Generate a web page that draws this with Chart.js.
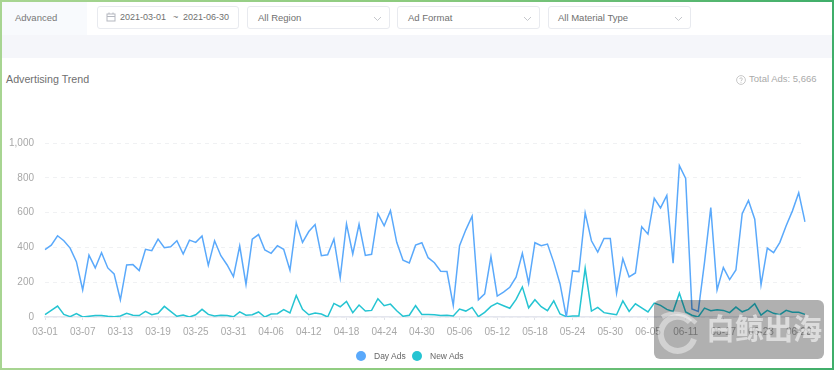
<!DOCTYPE html>
<html>
<head>
<meta charset="utf-8">
<script src="https://cdn.jsdelivr.net/npm/chart.js@4/dist/chart.umd.min.js"></script>
<style>
html,body{margin:0;padding:0;background:#fff}
body{width:834px;height:370px;position:relative;overflow:hidden;font-family:"Liberation Sans",Arial,sans-serif}
.frame{position:absolute;inset:0;box-sizing:border-box;border:2px solid;border-image:linear-gradient(90deg,#a8d592,#8ccb7e 50%,#3fae6a) 1;z-index:5;pointer-events:none}
.tab{position:absolute;left:2px;top:2px;width:85px;height:33px;background:#f8fafd;color:#777;font-size:9.5px;line-height:31px;text-indent:13px}
.band{position:absolute;left:2px;right:2px;top:35px;height:23px;background:#f5f6fa}
.box{position:absolute;top:6px;height:21px;border:1px solid #e8eaef;border-radius:3px;color:#707070;font-size:9.5px;line-height:21px;box-sizing:content-box}
.box span{position:absolute;top:0;white-space:pre}
.box svg{position:absolute}
.title{position:absolute;left:6px;top:72px;font-size:10.7px;line-height:14px;color:#707070}
.total{position:absolute;left:749px;top:72px;font-size:9.5px;line-height:14px;color:#aaa;white-space:pre}
.help{position:absolute;left:736px;top:75px}
#wrap{position:absolute;left:2px;top:126px;width:830px;height:242px}
#legend{position:absolute;left:0;top:350px;width:834px;height:12px;font-size:8.5px;line-height:12px;color:#666}
#legend i{position:absolute;top:1px;width:10px;height:10px;border-radius:50%}
#legend span{position:absolute;top:0;white-space:pre}
.mark{position:absolute;left:654px;top:300px;width:170px;height:59px;border-radius:6px;background:rgba(0,0,0,.31);z-index:3;overflow:hidden}
.mark b{position:absolute;left:52px;top:8px;font:700 29px/38px "Noto Sans CJK SC",sans-serif;color:rgba(255,255,255,.55);white-space:pre}
.mark svg{position:absolute;left:0;top:0}
</style>
</head>
<body>
<div class="tab">Advanced</div>
<div class="box" style="left:97px;width:140px">
  <svg style="left:8px;top:5px" width="10" height="10" viewBox="0 0 10 10" fill="none" stroke="#b5b8c0"><rect x="1" y="2" width="8" height="7"/><path d="M1 4.5H9M3 .5V2M7 .5V2"/></svg>
  <span style="left:22px;font-size:9px">2021-03-01</span><span style="left:75px;font-size:9px">~</span><span style="left:85px;font-size:9px">2021-06-30</span>
</div>
<div class="box" style="left:247px;width:141px"><span style="left:10px">All Region</span>
  <svg style="left:125px;top:9px" width="9" height="6" viewBox="0 0 9 6" fill="none" stroke="#c5c7cc"><path d="M1 1L4.5 4.5L8 1"/></svg></div>
<div class="box" style="left:397px;width:141px"><span style="left:10px">Ad Format</span>
  <svg style="left:125px;top:9px" width="9" height="6" viewBox="0 0 9 6" fill="none" stroke="#c5c7cc"><path d="M1 1L4.5 4.5L8 1"/></svg></div>
<div class="box" style="left:548px;width:141px"><span style="left:9px">All Material Type</span>
  <svg style="left:125px;top:9px" width="9" height="6" viewBox="0 0 9 6" fill="none" stroke="#c5c7cc"><path d="M1 1L4.5 4.5L8 1"/></svg></div>
<div class="band"></div>
<div class="title">Advertising Trend</div>
<svg class="help" width="10" height="10" viewBox="0 0 10 10" fill="none" stroke="#c8c8c8"><circle cx="5" cy="5" r="4.4"/><path d="M3.7 4C3.7 2.4 6.4 2.4 6.4 4C6.4 5 5 5 5 6.2M5 7V7.8"/></svg>
<div class="total">Total Ads: 5,666</div>
<div id="wrap"><canvas id="myChart"></canvas></div>
<div id="legend"></div>
<div class="mark">
  <svg width="50" height="59" viewBox="0 0 50 59" fill="none" stroke="rgba(255,255,255,.42)" stroke-width="6"><path d="M36 22A17 17 0 1 0 40 39"/><path d="M8 17C18 11 32 13 42 23" stroke-width="4"/></svg>
  <b>白鲸出海</b>
</div>
<div class="frame"></div>
<script>
const dates = [
  '03-01','03-02','03-03','03-04','03-05','03-06','03-07','03-08','03-09','03-10','03-11','03-12','03-13','03-14','03-15','03-16',
  '03-17','03-18','03-19','03-20','03-21','03-22','03-23','03-24','03-25','03-26','03-27','03-28','03-29','03-30','03-31',
  '04-01','04-02','04-03','04-04','04-05','04-06','04-07','04-08','04-09','04-10','04-11','04-12','04-13','04-14','04-15',
  '04-16','04-17','04-18','04-19','04-20','04-21','04-22','04-23','04-24','04-25','04-26','04-27','04-28','04-29','04-30',
  '05-01','05-02','05-03','05-04','05-05','05-06','05-07','05-08','05-09','05-10','05-11','05-12','05-13','05-14','05-15','05-16',
  '05-17','05-18','05-19','05-20','05-21','05-22','05-23','05-24','05-25','05-26','05-27','05-28','05-29','05-30','05-31',
  '06-01','06-02','06-03','06-04','06-05','06-06','06-07','06-08','06-09','06-10','06-11','06-12','06-13','06-14','06-15',
  '06-16','06-17','06-18','06-19','06-20','06-21','06-22','06-23','06-24','06-25','06-26','06-27','06-28','06-29','06-30'
];
const dayAds = [
  387,413,467,438,396,318,156,356,282,370,282,248,99,299,301,267,389,381,448,398,404,438,362,442,429,465,297,438,
  352,299,232,408,187,448,474,385,366,410,389,269,543,429,491,531,352,358,448,225,535,362,533,354,360,594,524,611,
  429,326,310,413,427,341,312,263,261,67,410,501,579,99,133,347,120,143,171,229,366,194,427,410,419,314,190,0,
  265,261,598,438,373,451,451,137,335,230,253,518,476,682,627,699,309,870,796,46,32,314,629,156,284,215,270,594,
  670,562,185,396,370,429,524,610,714,547
];
const newAds = [
  13,38,63,15,2,19,0,4,8,8,4,2,6,21,10,8,32,13,21,61,32,4,11,0,13,44,15,6,
  10,8,1,29,10,13,29,0,17,19,42,23,124,44,13,23,17,0,78,59,90,25,69,34,38,105,65,74,
  36,4,10,65,15,15,13,8,10,6,46,34,55,2,27,61,80,65,50,101,173,53,99,59,36,93,17,2,
  6,6,280,34,55,25,19,13,93,32,76,52,29,80,67,44,32,137,29,10,0,51,36,42,38,25,57,30,
  44,76,11,38,21,13,38,27,27,15
];
const yTicks = [0, 200, 400, 600, 800, 1000];
const seriesNames = ['Day Ads', 'New Ads'];
const seriesColors = ['#5aa9fb', '#25c4d2'];

const ctx = document.getElementById('myChart').getContext('2d');
const myChart = new Chart(ctx, {
    type: 'line',
    data: {
        labels: dates,
        datasets: [
            {label: seriesNames[0], data: dayAds, borderColor: seriesColors[0], backgroundColor: seriesColors[0], borderWidth: 1.5, pointRadius: 0, tension: 0},
            {label: seriesNames[1], data: newAds, borderColor: seriesColors[1], backgroundColor: seriesColors[1], borderWidth: 1.5, pointRadius: 0, tension: 0}
        ]
    },
    options: {
        responsive: true,
        maintainAspectRatio: false,
        animation: false,
        layout: {padding: {top: 8, right: 27, bottom: 26}},
        plugins: {
            tooltip: {enabled: false},
            legend: {display: false}
        },
        scales: {
            x: {
                afterBuildTicks: axis => { axis.ticks = axis.ticks.filter((t, i) => i % 6 === 0); },
                afterFit: axis => { axis.height = 25; },
                grid: {drawOnChartArea: false, drawTicks: true, tickLength: 3, tickColor: '#e0e3ea'},
                border: {color: '#e4e6ee', width: 1.5},
                ticks: {autoSkip: false, maxRotation: 0, padding: 6, color: '#a8a8a8', font: {size: 10, family: '"Liberation Sans", Arial, sans-serif'}}
            },
            y: {
                min: 0,
                max: 1000,
                afterBuildTicks: axis => { axis.ticks = yTicks.map(v => ({value: v})); },
                afterFit: axis => { axis.width = 43; },
                grid: {color: '#f0f1f3', drawTicks: false},
                border: {display: false, dash: [4, 4]},
                ticks: {padding: 11, color: '#a8a8a8', font: {size: 10, family: '"Liberation Sans", Arial, sans-serif'}, callback: v => v.toLocaleString('en-US')}
            }
        }
    }
});

// legend in the page, the gap between dot and text is wider than the built-in one allows
const legendX = [356, 412];
seriesNames.forEach((name, i) => {
    document.getElementById('legend').insertAdjacentHTML('beforeend',
        `<i style="left:${legendX[i]}px;background:${seriesColors[i]}"></i><span style="left:${legendX[i] + 18}px">${name}</span>`);
});
</script>
</body>
</html>
